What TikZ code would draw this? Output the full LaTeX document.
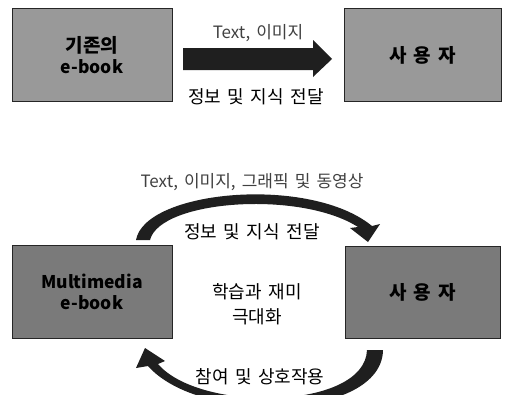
\documentclass[tikz,border=0pt]{standalone}
\usepackage{fontspec}
\setmainfont{Noto Sans CJK KR}[WordSpace=1.6]
\begin{document}
\begin{tikzpicture}[x=1pt,y=-1pt,
  box/.style={draw=black!85,line width=0.8pt,minimum width=160pt,minimum height=93pt,inner sep=0pt,align=center},
  topbox/.style={box,fill=black!40},
  botbox/.style={box,fill=black!52},
  boxtxt/.style={font=\fontsize{17.5}{21}\selectfont\bfseries},
  krbox/.style={font=\fontsize{19}{21}\selectfont\bfseries},
  lbl/.style={font=\fontsize{18}{25}\selectfont,inner sep=1pt},
  thin/.style={font=\fontsize{17}{20}\selectfont,text=black!75,inner sep=1pt},
  arr/.style={fill=black!88}]
\useasboundingbox (0,0) rectangle (505,394);
% top row
\node[topbox,boxtxt] (old) at (92,55) {{\fontsize{19}{21}\selectfont 기존의}\\e-book};
\node[topbox,krbox,minimum width=157pt] (user1) at (422.5,55) {사 용 자};
\fill[arr] (183,48) -- (313,48) -- (313,40) -- (332,59) -- (313,77) -- (313,70) -- (183,70) -- cycle;
\node[thin] (t1) at (258,33) {Text, 이미지};
\node[lbl] (l1) at (256,97) {정보 및 지식 전달};
% bottom row
\node[botbox,boxtxt] (multi) at (92,291.5) {Multimedia\\e-book};
\node[botbox,krbox,minimum width=155pt,minimum height=92pt] (user2) at (422.5,292) {사 용 자};
\fill[arr] (136,240) .. controls (145,190) and (310,175) .. (372,226)
  -- (380,224) -- (368,242) -- (350,228) -- (358,227)
  .. controls (300,190) and (160,200) .. (150,240) -- cycle;
\fill[arr] (367,350) -- (383,350) .. controls (382,420) and (200,425) .. (148,366)
  -- (136,368) -- (145,348) -- (165,361) -- (158,364)
  .. controls (200,413) and (365,410) .. (367,350) -- cycle;
\node[thin] (t2) at (252,182) {Text, 이미지, 그래픽 및 동영상};
\node[lbl] (l2) at (252,232) {정보 및 지식 전달};
\node[lbl,align=center] (c) at (257,304) {학습과 재미\\극대화};
\node[lbl,fill=white] (l3) at (260,377) {참여 및 상호작용};
\end{tikzpicture}
\end{document}
